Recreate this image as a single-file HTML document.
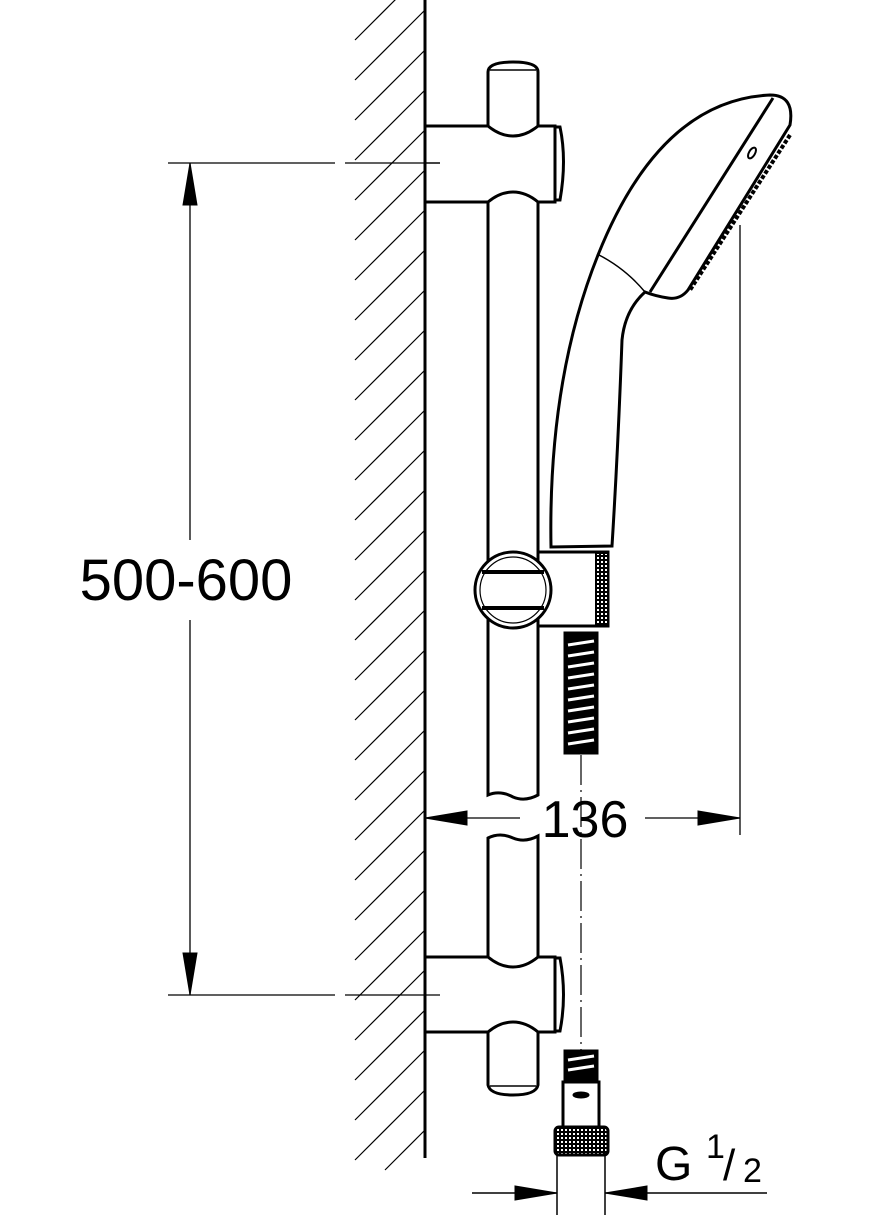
<!DOCTYPE html>
<html><head><meta charset="utf-8"><style>html,body{margin:0;padding:0;background:#fff}svg{display:block}</style></head><body>
<svg width="889" height="1228" viewBox="0 0 889 1228" xmlns="http://www.w3.org/2000/svg">
<defs>
<pattern id="kn" width="4" height="4" patternUnits="userSpaceOnUse"><rect width="4" height="4" fill="#000"/><rect x="1" y="1" width="2" height="2" fill="#fff"/></pattern>
</defs>
<g stroke="#000" fill="none">
<g stroke-width="1.2">
<line x1="355" y1="40" x2="400" y2="-5"/><line x1="355" y1="80" x2="425" y2="10"/>
<line x1="355" y1="120" x2="425" y2="50"/><line x1="355" y1="160" x2="425" y2="90"/>
<line x1="355" y1="200" x2="425" y2="130"/><line x1="355" y1="240" x2="425" y2="170"/>
<line x1="355" y1="280" x2="425" y2="210"/><line x1="355" y1="320" x2="425" y2="250"/>
<line x1="355" y1="360" x2="425" y2="290"/><line x1="355" y1="400" x2="425" y2="330"/>
<line x1="355" y1="440" x2="425" y2="370"/><line x1="355" y1="480" x2="425" y2="410"/>
<line x1="355" y1="520" x2="425" y2="450"/><line x1="355" y1="560" x2="425" y2="490"/>
<line x1="355" y1="600" x2="425" y2="530"/><line x1="355" y1="640" x2="425" y2="570"/>
<line x1="355" y1="680" x2="425" y2="610"/><line x1="355" y1="720" x2="425" y2="650"/>
<line x1="355" y1="760" x2="425" y2="690"/><line x1="355" y1="800" x2="425" y2="730"/>
<line x1="355" y1="840" x2="425" y2="770"/><line x1="355" y1="880" x2="425" y2="810"/>
<line x1="355" y1="920" x2="425" y2="850"/><line x1="355" y1="960" x2="425" y2="890"/>
<line x1="355" y1="1000" x2="425" y2="930"/><line x1="355" y1="1040" x2="425" y2="970"/>
<line x1="355" y1="1080" x2="425" y2="1010"/><line x1="355" y1="1120" x2="425" y2="1050"/>
<line x1="355" y1="1160" x2="425" y2="1090"/><line x1="385" y1="1170" x2="425" y2="1130"/>
</g>
<line x1="425" y1="0" x2="425" y2="1158" stroke-width="3"/>
<g stroke-width="1.3">
<line x1="168" y1="163" x2="335" y2="163"/><line x1="345" y1="163" x2="440" y2="163"/>
<line x1="168" y1="995" x2="335" y2="995"/><line x1="345" y1="995" x2="440" y2="995"/>
<line x1="190" y1="163" x2="190" y2="540"/><line x1="190" y1="620" x2="190" y2="995"/>
</g>
<polygon points="190,163 183,205 197,205" fill="#000"/>
<polygon points="190,995 183,953 197,953" fill="#000"/>
<g stroke-width="3">
<path d="M488,126 V72 Q488,62 513,62 Q538,62 538,72 V126"/>
<line x1="490" y1="70" x2="536" y2="70" stroke-width="1.5"/>
<path d="M488,202 V795 Q500,790 513,797 Q525,802 538,795 V202"/>
<path d="M488,957 V838 Q500,832 513,838 Q525,843 538,836 V957"/>
<path d="M488,1032 V1085 Q490,1095 513,1095 Q536,1095 538,1085 V1032"/>
<line x1="490" y1="1086" x2="536" y2="1086" stroke-width="1.5"/>
<path d="M425,126 H488 Q500,136 513,136 Q526,136 538,126 H555 V202 H538 Q526,192 513,192 Q500,192 488,202 H425"/>
<path d="M555,127 H560 Q567,160 560,200 H555"/>
<path d="M425,957 H488 Q500,967 513,967 Q526,967 538,957 H555 V1032 H538 Q526,1022 513,1022 Q500,1022 488,1032 H425"/>
<path d="M555,958 H560 Q567,995 560,1031 H555"/>
</g>
<line x1="425" y1="163" x2="440" y2="163" stroke-width="1.3"/>
<g stroke-width="3">
<path d="M551,547 Q548,380 598,255 Q660,100 770,95 Q795,95 790,125 L688,290 Q680,300 668,298 Q655,296 645,292 Q625,310 622,340 Q618,450 612,546 Z" fill="#fff"/>
<line x1="773" y1="98" x2="650" y2="292"/>
<path d="M790,135 L690,290" stroke-dasharray="4,2" stroke-width="4"/>
<ellipse cx="752" cy="153" rx="3" ry="6" transform="rotate(30 752 153)" stroke-width="2"/>
</g>
<path d="M597,254 Q625,268 645,292" stroke-width="1.5"/>
<g stroke-width="3">
<rect x="538" y="552" width="70" height="74" fill="#fff"/>
<rect x="596" y="553" width="12" height="73" fill="url(#kn)" stroke-width="2"/>
<circle cx="513" cy="590" r="38" fill="#fff"/>
<circle cx="513" cy="590" r="33" stroke-width="1.2"/>
<line x1="482" y1="572" x2="544" y2="572" stroke-width="4"/>
<line x1="482" y1="608" x2="544" y2="608" stroke-width="4"/>
</g>
<rect x="564" y="632" width="34" height="122" fill="#000"/>
<g stroke="#fff" stroke-width="3">
<line x1="568" y1="645" x2="594" y2="641"/><line x1="568" y1="656" x2="594" y2="652"/><line x1="568" y1="667" x2="594" y2="663"/><line x1="568" y1="678" x2="594" y2="674"/><line x1="568" y1="689" x2="594" y2="685"/><line x1="568" y1="700" x2="594" y2="696"/><line x1="568" y1="711" x2="594" y2="707"/><line x1="568" y1="722" x2="594" y2="718"/><line x1="568" y1="733" x2="594" y2="729"/><line x1="568" y1="744" x2="594" y2="740"/>
</g>
<line x1="581" y1="755" x2="581" y2="1050" stroke-width="1.2" stroke-dasharray="30,5,2,5"/>
<g stroke-width="1.3">
<line x1="425" y1="818" x2="520" y2="818"/><line x1="645" y1="818" x2="740" y2="818"/>
<line x1="740" y1="225" x2="740" y2="835"/>
</g>
<polygon points="425,818 467,811 467,825" fill="#000"/>
<polygon points="740,818 698,811 698,825" fill="#000"/>
<rect x="564" y="1050" width="34" height="30" fill="#000"/>
<g stroke="#fff" stroke-width="3"><line x1="568" y1="1060" x2="594" y2="1056"/><line x1="568" y1="1070" x2="594" y2="1066"/></g>
<rect x="563" y="1082" width="36" height="45" stroke-width="3"/>
<ellipse cx="581" cy="1095" rx="8" ry="3" fill="#000"/>
<rect x="555" y="1127" width="53" height="28" rx="4" fill="url(#kn)" stroke-width="3"/>
<g stroke-width="1.5">
<line x1="557" y1="1155" x2="557" y2="1215"/><line x1="605" y1="1155" x2="605" y2="1215"/>
<line x1="472" y1="1193" x2="557" y2="1193"/><line x1="605" y1="1193" x2="767" y2="1193"/>
</g>
<polygon points="557,1193 515,1186 515,1200" fill="#000"/>
<polygon points="605,1193 647,1186 647,1200" fill="#000"/>
</g>
<g font-family="Liberation Sans, sans-serif" fill="#000">
<rect x="70" y="545" width="230" height="70" fill="#fff"/>
<text x="186" y="600" font-size="58" text-anchor="middle">500-600</text>
<text x="585" y="837" font-size="52" text-anchor="middle">136</text>
<text x="655" y="1180" font-size="48">G</text>
<text x="706" y="1158" font-size="34">1</text>
<text x="723" y="1180" font-size="44">/</text>
<text x="743" y="1182" font-size="34">2</text>
</g>
</svg>
</body></html>
